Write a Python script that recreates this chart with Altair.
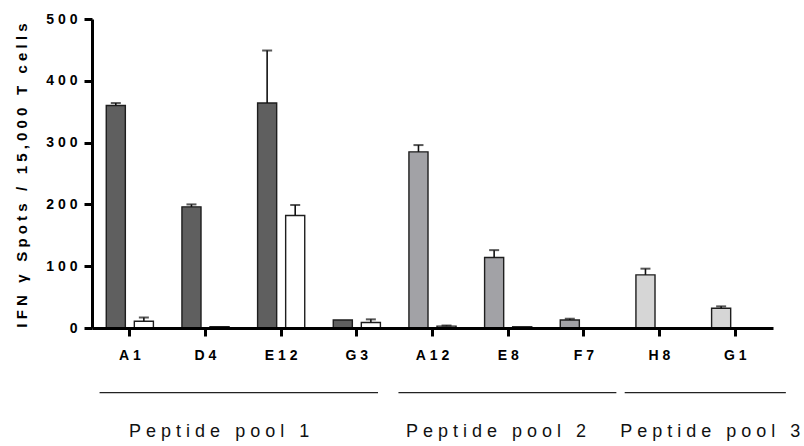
import altair as alt
import pandas as pd

# Peptides tested, in plotting order, and the pool each belongs to
groups = ["A1", "D4", "E12", "G3", "A12", "E8", "F7", "H8", "G1"]
group_pool = ["Peptide pool 1"] * 4 + ["Peptide pool 2"] * 3 + ["Peptide pool 3"] * 2

# IFN-gamma spots per 15,000 T cells (mean and upper error)
peptide_mean = [360, 196, 364, 13, 285, 114, 13, 86, 32]
peptide_err = [4, 4, 85, 0, 11, 12, 2, 10, 3]
control_mean = [11, 2, 182, 9, 3, 2, 0, 0, 0]
control_err = [6, 0, 17, 5, 1, 0, 0, 0, 0]

pool_names = ["Peptide pool 1", "Peptide pool 2", "Peptide pool 3"]
pool_fill = ["#5f5f5f", "#a2a2a6", "#d6d6d6"]
# Pool brackets, expressed in group units along the x axis
pool_start = [0.10, 4.05, 7.04]
pool_end = [3.78, 6.93, 9.17]
pool_label_at = [1.68, 5.34, 8.17]

FONT = "Liberation Sans"
NBSP = "\u00a0"


def spaced(s):
    # wide tracking; non-breaking spaces so SVG keeps the gaps
    return NBSP.join(ch if ch != " " else NBSP for ch in s)


rows = []
for i, g in enumerate(groups):
    fill = pool_fill[pool_names.index(group_pool[i])]
    rows.append(dict(group=g, series="peptide", value=peptide_mean[i],
                     err=peptide_err[i], fill=fill))
    rows.append(dict(group=g, series="control", value=control_mean[i],
                     err=control_err[i], fill="#ffffff"))
df = pd.DataFrame(rows)
df["upper"] = df["value"] + df["err"]

pools = pd.DataFrame({
    "pool": pool_names,
    "start": pool_start,
    "end": pool_end,
    "mid": pool_label_at,
    "label": [spaced(p) for p in pool_names],
})

x_enc = alt.X(
    "group:N", sort=groups, title=None,
    scale=alt.Scale(domain=groups, paddingInner=0.377, paddingOuter=0.1885),
    axis=alt.Axis(
        labelExpr="join(split(datum.label, ''), '\u00a0')",
        labelAngle=0, labelFont=FONT, labelFontSize=14, labelFontWeight="bold",
        labelColor="#000", labelPadding=12,
        domainColor="#000", domainWidth=3, tickColor="#000", tickWidth=3,
        tickSize=8, grid=False, zindex=1,
    ),
)
xo_enc = alt.XOffset(
    "series:N",
    scale=alt.Scale(domain=["peptide", "control"], paddingInner=0.32, paddingOuter=0),
)
y_scale = alt.Scale(domain=[0, 500], nice=False)

bars = alt.Chart(df).mark_bar(stroke="#1e1e1e", strokeWidth=1.4).encode(
    x=x_enc,
    xOffset=xo_enc,
    y=alt.Y(
        "value:Q", scale=y_scale,
        title=spaced("IFN γ Spots / 15,000 T cells"),
        axis=alt.Axis(
            values=[0, 100, 200, 300, 400, 500],
            labelExpr="join(split(datum.label, ''), '\u00a0')",
            labelFont=FONT, labelFontSize=14, labelFontWeight="bold",
            labelColor="#000", labelPadding=7,
            domainColor="#000", domainWidth=3, tickColor="#000", tickWidth=3,
            tickSize=8, grid=False, zindex=1,
            titleFont=FONT, titleFontSize=15, titleFontWeight="bold",
            titleColor="#000", titleAngle=270, titleAlign="center",
            titleBaseline="middle", titleX=-71, titleY=156,
        ),
    ),
    fill=alt.Fill("fill:N", scale=None),
)

err_base = alt.Chart(df).transform_filter("datum.err > 0")
err_line = err_base.mark_rule(color="#111", strokeWidth=1.6).encode(
    x=x_enc, xOffset=xo_enc,
    y=alt.Y("value:Q", scale=y_scale), y2="upper:Q",
)
err_cap = err_base.mark_tick(orient="horizontal", size=10, thickness=2, color="#111").encode(
    x=x_enc, xOffset=xo_enc,
    y=alt.Y("upper:Q", scale=y_scale),
)

pool_x = alt.Scale(domain=[0, 9], nice=False, zero=False)
pool_lines = alt.Chart(pools).mark_rule(color="#222", strokeWidth=1.3).encode(
    x=alt.X("start:Q", scale=pool_x, axis=None),
    x2="end:Q",
    y=alt.value(373.7),
)
pool_text = alt.Chart(pools).mark_text(
    font=FONT, fontSize=18, color="#111", baseline="middle", align="center",
).encode(
    x=alt.X("mid:Q", scale=pool_x, axis=None),
    y=alt.value(413),
    text="label:N",
)

bar_layer = alt.layer(bars, err_line, err_cap)
pool_layer = alt.layer(pool_lines, pool_text)

chart = alt.layer(bar_layer, pool_layer).resolve_scale(x="independent").properties(
    width=681, height=309,
    padding={"left": 92, "top": 19, "right": 31, "bottom": 118},
    autosize=alt.AutoSizeParams(type="none"),
    background="#ffffff",
).configure_view(stroke=None)

chart.save("out.html", embed_options={"renderer": "svg", "actions": False})
